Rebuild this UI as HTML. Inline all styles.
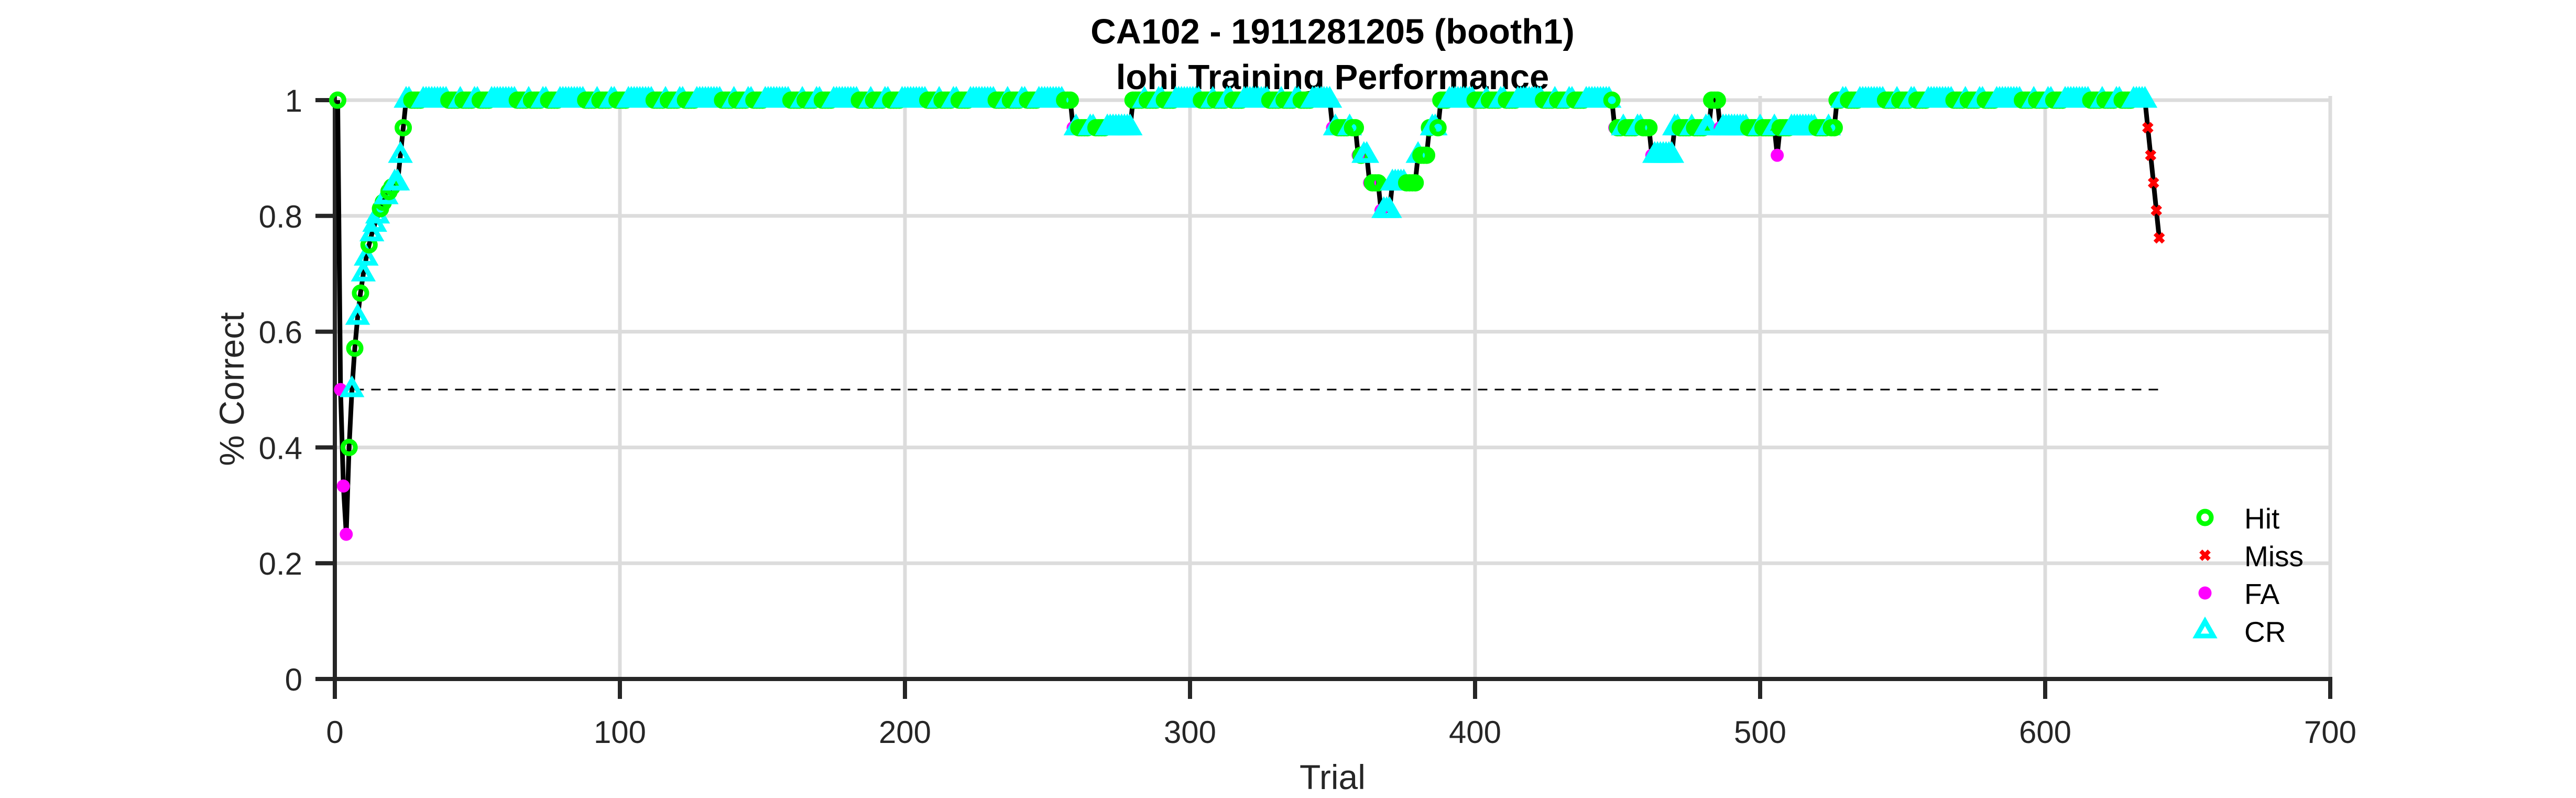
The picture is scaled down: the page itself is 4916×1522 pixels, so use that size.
<!DOCTYPE html>
<html><head><meta charset="utf-8"><style>
html,body{margin:0;padding:0;background:#fff;}
svg{display:block;font-family:"Liberation Sans",Arial,sans-serif;}
</style></head><body>
<svg id="chart" width="4916" height="1522" viewBox="0 0 4916 1522" xmlns="http://www.w3.org/2000/svg">
<rect width="4916" height="1522" fill="#fff"/>
<g id="grid"></g>
<g id="axes"></g>
<text x="2543" y="83" text-anchor="middle" font-size="67" font-weight="bold">CA102 - 1911281205 (booth1)</text>
<text x="2543" y="170" text-anchor="middle" font-size="67" font-weight="bold">lohi Training Performance</text>
<g id="marks"></g>
<text x="2543" y="1505" text-anchor="middle" font-size="66" fill="#262626">Trial</text>
<text transform="translate(465,742) rotate(-90)" text-anchor="middle" font-size="66" fill="#262626">% Correct</text>
<g id="legend"></g>
</svg>
<script>
const xTicks = [0,100,200,300,400,500,600,700];
const yTicks = [0,0.2,0.4,0.6,0.8,1];
const yTickLabels = ["0","0.2","0.4","0.6","0.8","1"];
const earlyOutcomes = "HFFFHCHCHCCHCCCHHCHHCCCH";
const hcPattern = "HCCHHCHCCCHHCHCCHHHCCHCH";
const faTrials = [2,3,4,259,350,359,363,367,449,462,486,506];
const missTrials = [636,637,638,639,640];
const nTrials = [640];
const windowSize = [21];
const chanceLevel = [0.5];

const X0=639, X1=4447, Y0=1295, Y1=191;
const xs = v => X0 + (v/700)*(X1-X0);
const ys = v => Y0 - v*(Y0-Y1);
const NS="http://www.w3.org/2000/svg";
function mk(tag, parent){const e=document.createElementNS(NS,tag);document.getElementById(parent).appendChild(e);return e;}

const outcomes=[];
for(let t=1;t<=nTrials[0];t++){
  let o;
  if(t<=earlyOutcomes.length) o=earlyOutcomes[t-1];
  else o=hcPattern[(t*7)%hcPattern.length];
  if(faTrials.includes(t)) o='F';
  if(missTrials.includes(t)) o='M';
  outcomes.push(o);
}
const perf=[];
for(let i=0;i<outcomes.length;i++){
  const s=Math.max(0,i-windowSize[0]+1);let c=0;
  for(let j=s;j<=i;j++) if(outcomes[j]==='H'||outcomes[j]==='C') c++;
  perf.push(c/(i-s+1));
}

xTicks.slice(1).forEach(v=>{const l=mk('line','grid');


l.setAttribute('x1',xs(v));l.setAttribute('x2',xs(v));l.setAttribute('y1',ys(0));l.setAttribute('y2',ys(1)-8);l.setAttribute('stroke','#dcdcdc');l.setAttribute('stroke-width','7');});
yTicks.slice(1).forEach(v=>{const l=mk('line','grid');


l.setAttribute('x1',X0);l.setAttribute('x2',X1);l.setAttribute('y1',ys(v));l.setAttribute('y2',ys(v));l.setAttribute('stroke','#dcdcdc');l.setAttribute('stroke-width','7');});

let ax=mk('line','axes');


ax.setAttribute('x1',X0-37);ax.setAttribute('x2',X1+4);ax.setAttribute('y1',Y0);ax.setAttribute('y2',Y0);ax.setAttribute('stroke','#262626');ax.setAttribute('stroke-width','8');
let ay=mk('line','axes');


ay.setAttribute('x1',X0);ay.setAttribute('x2',X0);ay.setAttribute('y1',Y0+38);ay.setAttribute('y2',ys(1)-8);ay.setAttribute('stroke','#262626');ay.setAttribute('stroke-width','8');
xTicks.forEach(v=>{const t=mk('line','axes');


t.setAttribute('x1',xs(v));t.setAttribute('x2',xs(v));t.setAttribute('y1',Y0);t.setAttribute('y2',Y0+38);t.setAttribute('stroke','#262626');t.setAttribute('stroke-width','8');
const tx=mk('text','axes');


tx.setAttribute('x',xs(v));tx.setAttribute('y',Y0+122);tx.setAttribute('text-anchor','middle');tx.setAttribute('font-size','60');tx.setAttribute('fill','#262626');tx.textContent=String(v);});
yTicks.forEach((v,i)=>{const t=mk('line','axes');


t.setAttribute('x1',X0-37);t.setAttribute('x2',X0);t.setAttribute('y1',ys(v));t.setAttribute('y2',ys(v));t.setAttribute('stroke','#262626');t.setAttribute('stroke-width','8');
const tx=mk('text','axes');


tx.setAttribute('x',577);tx.setAttribute('y',ys(v)+22);tx.setAttribute('text-anchor','end');tx.setAttribute('font-size','60');tx.setAttribute('fill','#262626');tx.textContent=yTickLabels[i];});

const ch=mk('line','marks');


ch.setAttribute('x1',xs(1));ch.setAttribute('x2',xs(nTrials[0]));ch.setAttribute('y1',ys(chanceLevel[0]));ch.setAttribute('y2',ys(chanceLevel[0]));ch.setAttribute('stroke','#000');ch.setAttribute('stroke-width','3');ch.setAttribute('stroke-dasharray','18,14');

const pl=mk('polyline','marks');


pl.setAttribute('points',perf.map((v,i)=>xs(i+1)+','+ys(v)).join(' '));
pl.setAttribute('fill','none');pl.setAttribute('stroke','#000');pl.setAttribute('stroke-width','9');

function marker(type,x,y,parent){
  let e;
  if(type==='H'){e=mk('ellipse',parent);e.setAttribute('cx',x);e.setAttribute('cy',y);e.setAttribute('rx','12');e.setAttribute('ry','12');e.setAttribute('fill','none');e.setAttribute('stroke','#00ff00');e.setAttribute('stroke-width','9');}
  else if(type==='C'){e=mk('polygon',parent);e.setAttribute('points',`${x},${y-18} ${x-16},${y+10} ${x+16},${y+10}`);e.setAttribute('fill','none');e.setAttribute('stroke','#00ffff');e.setAttribute('stroke-width','9');}
  else if(type==='F'){e=mk('ellipse',parent);e.setAttribute('cx',x);e.setAttribute('cy',y);e.setAttribute('rx','12.5');e.setAttribute('ry','12.5');e.setAttribute('fill','#ff00ff');}
  else {e=mk('path',parent);e.setAttribute('d',`M${x-8},${y-8}L${x+8},${y+8}M${x-8},${y+8}L${x+8},${y-8}`);e.setAttribute('stroke','#ff0000');e.setAttribute('stroke-width','8');}
  return e;
}
outcomes.forEach((o,i)=>{const e=marker(o,xs(i+1),ys(perf[i]),'marks');

});

const legItems=[['H','Hit'],['M','Miss'],['F','FA'],['C','CR']];
legItems.forEach((it,i)=>{const y=987+i*72;
const e=marker(it[0],4208,y,'legend');


const t=mk('text','legend');


t.setAttribute('x',4283);t.setAttribute('y',y+21);t.setAttribute('font-size','55');t.setAttribute('fill','#000');t.textContent=it[1];});
</script>
</body></html>
